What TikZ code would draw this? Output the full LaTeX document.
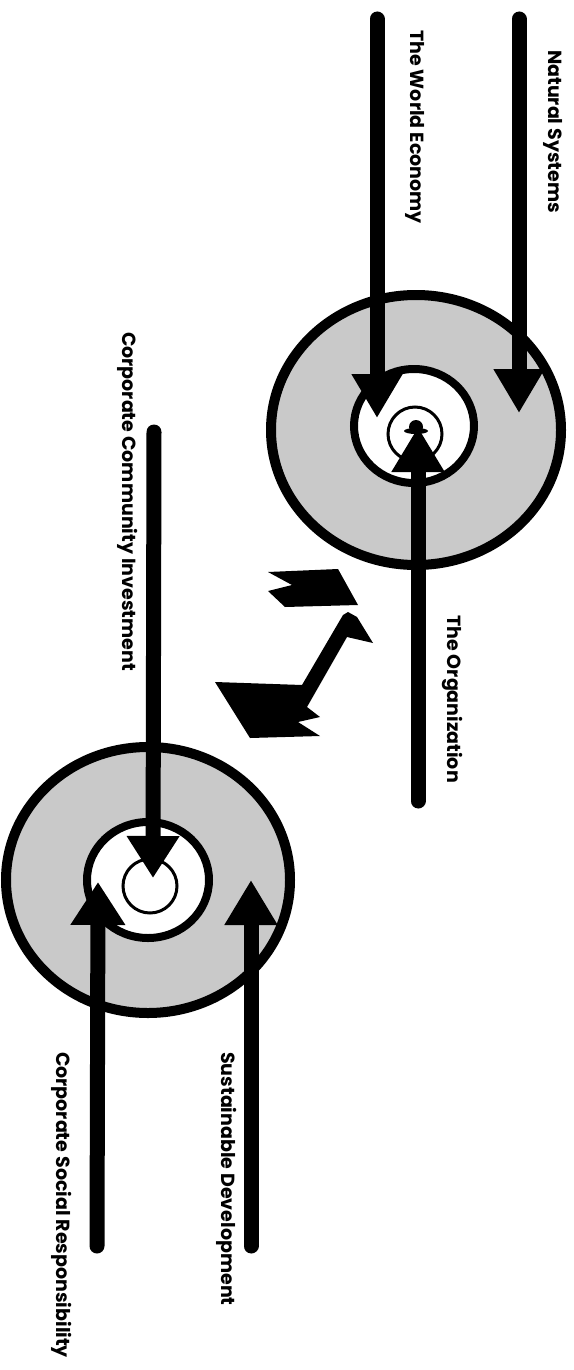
\documentclass[tikz,border=0pt]{standalone}
\usepackage{fontspec}
\newfontfamily\gothic{Poppins}
\usetikzlibrary{arrows.meta}
\definecolor{ink}{HTML}{000000}
\definecolor{speck}{HTML}{C9C9C9}
\newcommand{\Lab}{\gothic\fontsize{19}{22}\selectfont\bfseries}
\tikzset{
  lab/.style={rotate=-90, anchor=west, inner sep=0pt, font=\Lab, text=ink},
  shaft/.style={draw=ink, line width=15pt, line cap=round, -{Triangle[length=44pt,width=48pt]}},
  rim/.style={draw=ink, line width=10pt, fill=speck},
  hole/.style={draw=ink, line width=8pt, fill=white},
  core/.style={draw=ink, line width=3pt},
  flag/.style={fill=ink},
}

\begin{document}
\begin{tikzpicture}[x=1pt,y=-1pt]
  \useasboundingbox (0,0) rectangle (573,1370);
  % upper wheel: the organization
  \coordinate (orgc) at (416,430);
  \draw[rim] (orgc) ellipse (145pt and 135pt);
  \draw[hole] (414,426) ellipse (60pt and 57pt);
  \draw[core] (415,434) circle (27pt);
  % lower wheel: corporate responsibility
  \coordinate (csrc) at (148,880);
  \draw[rim] (csrc) ellipse (142pt and 133pt);
  \draw[hole] (csrc) ellipse (61pt and 58pt);
  \draw[core] (150,886) circle (27pt);

  % labels
  \node[lab] (natsys) at (553,50) {Natural Systems};
  \node[lab] (worldeco) at (415,30) {The World Economy};
  \node[lab] (organ) at (452,615) {The Organization};
  \node[lab] (ccinv) at (128,332) {Corporate Community Investment};
  \node[lab] (susdev) at (227,1052) {Sustainable Development};
  \node[lab] (csresp) at (62,1052) {Corporate Social Responsibility};

  % arrow ends
  \coordinate (ns0) at (519,19);   \coordinate (ns1) at (519,413);
  \coordinate (we0) at (377,19);   \coordinate (we1) at (377,418);
  \coordinate (or0) at (418,801);  \coordinate (or1) at (418,427);
  \coordinate (cc0) at (154,432);  \coordinate (cc1) at (153,878);
  \coordinate (sd0) at (251,1246); \coordinate (sd1) at (251,880);
  \coordinate (cs0) at (97,1246);  \coordinate (cs1) at (98,882);

  \draw[shaft] (ns0) -- (ns1);
  \draw[shaft] (we0) -- (we1);
  \draw[shaft,-{Triangle[length=45pt,width=50pt]}] (or0) -- (or1);
  \draw[shaft,-{Triangle[length=42pt,width=50pt]}] (cc0) -- (cc1);
  \draw[shaft,-{Triangle[length=45pt,width=50pt]}] (sd0) -- (sd1);
  \draw[shaft,-{Triangle[length=43pt,width=52pt]}] (cs0) -- (cs1);
  % little figure on the organization tip
  \fill[ink] (416,431) ellipse (12pt and 3pt);
  \fill[ink] (416,427) circle (7pt);

  % link between the wheels
  \fill[flag] (268,572) -- (338,569) -- (358,605) -- (285,607) -- (268,591) -- (292,585) -- cycle;
  \fill[flag] (215,682) -- (302,685) -- (343,615) -- (348,612) -- (357,617) -- (373,643)
    -- (347,637) -- (307,707) -- (320,717) -- (298,722) -- (320,736) -- (250,738) -- cycle;
\end{tikzpicture}
\end{document}
